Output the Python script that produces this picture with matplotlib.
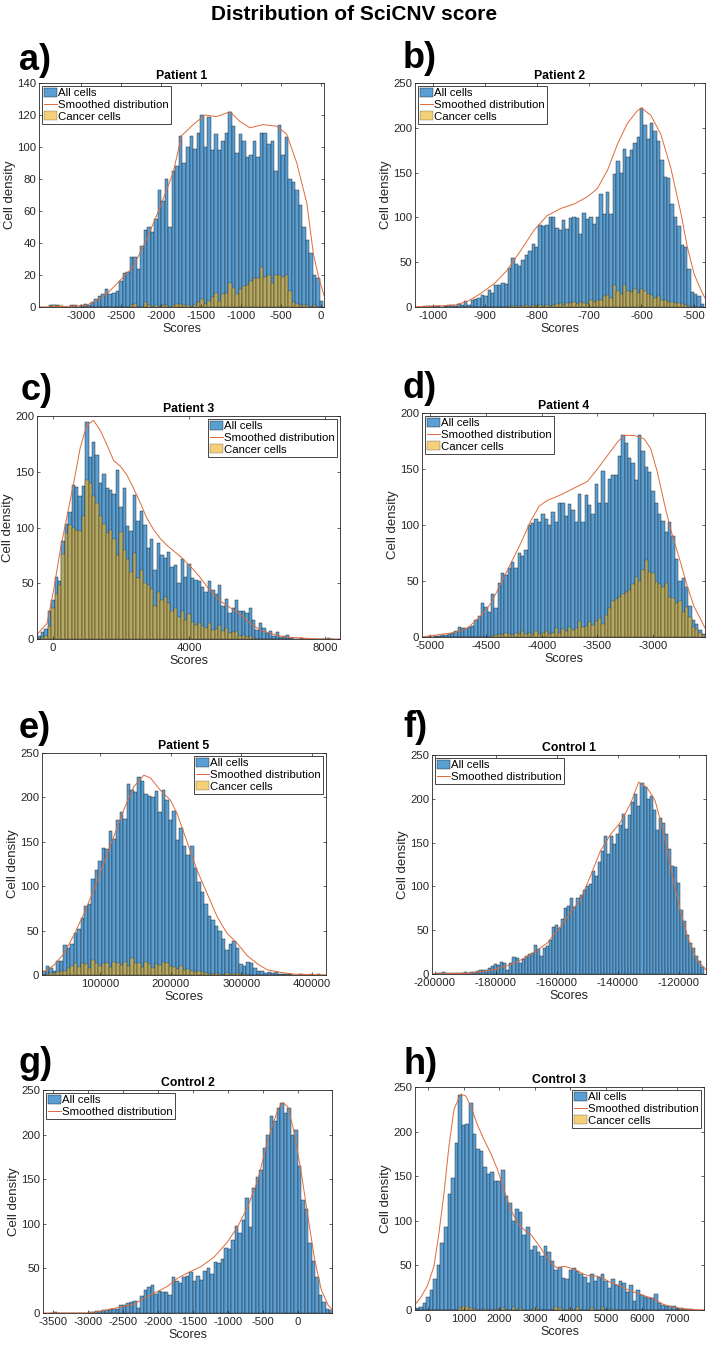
import numpy as np
import matplotlib
matplotlib.use("Agg")
import matplotlib.pyplot as plt
from matplotlib.patches import Patch
from matplotlib.lines import Line2D

plt.rcParams['font.family'] = ['Liberation Sans', 'DejaVu Sans']
plt.rcParams['axes.unicode_minus'] = False

# ---- Patient 1 ----
a_start, a_width = -3400, 44
a_all = [1, 1, 1, 0, 0, 0, 1, 1, 0, 1, 2, 1, 3, 5, 7, 8, 11, 8, 9, 10,
         16, 21, 22, 31, 31, 24, 38, 48, 50, 47, 55, 73, 66, 80, 50, 85, 88, 107, 90, 100,
         107, 99, 109, 120, 100, 119, 98, 108, 98, 104, 109, 122, 113, 96, 108, 104, 94, 95, 104, 94,
         109, 109, 102, 104, 85, 114, 95, 106, 80, 78, 73, 64, 50, 42, 34, 20, 18, 4]
a_cancer = [0, 1, 0, 1, 0, 0, 0, 0, 0, 0, 0, 0, 0, 0, 0, 0, 0, 0, 0, 0,
            0, 0, 0, 1, 2, 0, 0, 3, 1, 0, 1, 0, 1, 1, 0, 1, 2, 2, 1, 1,
            0, 1, 3, 5, 2, 4, 6, 9, 4, 8, 9, 15, 12, 8, 11, 13, 14, 16, 18, 18,
            25, 19, 20, 15, 20, 20, 19, 20, 10, 3, 2, 1, 1, 1, 0, 1, 0, 0]
a_curve_x = [-3520, -3200, -2930, -2763, -2636, -2500, -2345, -2178, -2011, -1844, -1740, -1594, -1448,
             -1302, -1135, -1010, -885, -718, -551, -426, -300, -175, -92, -29, 42]
a_curve_y = [0, 0.3, 1, 5, 10, 17, 25, 42, 62, 84, 107, 114, 120, 119, 122, 116, 112, 114, 113, 108,
             90, 65, 33, 19, 7]

# ---- Patient 2 ----
b_start, b_width = -1032, 6.5
b_all = [0, 0, 1, 1, 1, 1, 1, 0, 1, 2, 2, 1, 3, 2, 7, 2, 8, 9, 10, 13,
         12, 19, 16, 25, 25, 27, 26, 43, 55, 48, 46, 53, 58, 62, 70, 67, 92, 90, 92, 100,
         100, 88, 86, 97, 87, 99, 101, 99, 82, 105, 98, 100, 93, 101, 126, 104, 128, 104, 148, 163,
         150, 176, 167, 175, 183, 190, 222, 203, 188, 205, 196, 185, 164, 145, 144, 115, 100, 90, 69, 67,
         42, 17, 15, 12, 3]
b_cancer = [0, 0, 0, 0, 0, 0, 0, 0, 0, 0, 0, 0, 0, 0, 0, 0, 0, 0, 0, 0,
            0, 0, 0, 0, 0, 0, 0, 1, 1, 1, 1, 1, 2, 1, 2, 1, 2, 1, 2, 1,
            2, 3, 4, 2, 5, 4, 6, 3, 6, 5, 3, 8, 6, 8, 8, 12, 13, 10, 25, 18,
            14, 24, 18, 17, 20, 16, 20, 18, 14, 13, 10, 12, 8, 8, 6, 6, 5, 4, 3, 2,
            1, 0, 0, 0, 0]
b_curve_x = [-1035, -1000, -960, -935, -909, -883, -858, -832, -806, -781, -755, -729, -704, -685, -665,
             -646, -627, -608, -600, -582, -563, -544, -524, -512, -499, -486, -478]
b_curve_y = [0, 1, 2, 6, 15, 26, 41, 63, 86, 102, 110, 115, 123, 132, 153, 182, 205, 219, 222, 214,
             193, 156, 104, 67, 37, 19, 10]

# ---- Patient 3 ----
c_start, c_width = -450, 100
c_all = [3, 6, 9, 25, 35, 56, 52, 88, 103, 114, 138, 136, 128, 137, 195, 163, 177, 165, 140, 148,
         135, 134, 130, 152, 118, 135, 101, 97, 129, 106, 115, 102, 82, 90, 62, 86, 75, 73, 78, 65,
         66, 50, 72, 56, 67, 55, 53, 52, 47, 42, 52, 44, 40, 48, 30, 36, 23, 28, 35, 25,
         25, 23, 28, 17, 8, 14, 10, 5, 7, 3, 6, 2, 3, 4, 1, 0, 0, 1, 0, 0,
         0, 0, 0, 0, 0, 1, 0]
c_cancer = [0, 2, 3, 12, 28, 40, 48, 76, 95, 102, 100, 98, 97, 110, 143, 140, 128, 122, 110, 103,
            95, 98, 90, 75, 96, 80, 72, 60, 77, 55, 62, 50, 48, 45, 30, 42, 35, 38, 32, 25,
            28, 20, 25, 17, 22, 15, 13, 14, 12, 10, 14, 8, 9, 13, 7, 10, 5, 6, 7, 3,
            4, 2, 3, 1, 0, 0, 0, 0, 0, 0, 0, 0, 0, 0, 0, 0, 0, 0, 0, 0,
            0, 0, 0, 0, 0, 0, 0]
c_curve_x = [-470, -176, 20, 216, 412, 608, 804, 1000, 1196, 1392, 1588, 1784, 1980, 2176, 2372, 2569,
             2765, 2961, 3157, 3353, 3549, 3745, 3941, 4137, 4333, 4529, 4725, 4921, 5216, 5510, 5804,
             6098, 6392, 6784, 7275, 7765, 8441]
c_curve_y = [4, 14, 44, 80, 110, 140, 172, 192, 196, 187, 174, 160, 155, 147, 135, 122, 108, 98, 90, 84,
             79, 74, 68, 62, 55, 47, 40, 34, 28, 22, 14, 8, 5, 2, 1, 0, 0]

# ---- Patient 4 ----
d_start, d_width = -5055, 30
d_all = [0, 1, 0, 1, 1, 2, 2, 3, 4, 5, 9, 8, 8, 9, 10, 15, 19,
         30, 27, 22, 38, 26, 48, 57, 55, 62, 67, 62, 75, 72, 78,
         100, 102, 105, 103, 110, 105, 100, 112, 103, 120, 120, 108, 119, 113, 103,
         128, 103, 127, 118, 110, 137, 120, 148, 120, 141, 145, 145, 162, 180, 173,
         160, 155, 140, 180, 166, 152, 147, 130, 120, 110, 104, 94, 103, 90, 70,
         50, 53, 45, 28, 15, 12, 6, 3]
d_cancer = [0, 0, 0, 0, 0, 0, 0, 0, 0, 0, 0, 0, 0, 0, 0, 0, 0, 0, 0, 0,
            1, 2, 3, 2, 4, 3, 2, 4, 3, 5, 3, 4, 2, 5, 3, 4, 5, 3, 4, 8,
            4, 7, 5, 9, 6, 8, 14, 9, 10, 13, 11, 14, 17, 12, 20, 26, 32, 34, 36, 38,
            40, 42, 47, 54, 50, 60, 69, 58, 57, 49, 47, 45, 48, 36, 35, 30, 32, 22, 27, 18,
            9, 7, 4, 2]
d_curve_x = [-5075, -4785, -4665, -4546, -4456, -4366, -4276, -4187, -4097, -4022, -3948, -3828, -3708,
             -3589, -3500, -3410, -3320, -3260, -3170, -3081, -3021, -2961, -2901, -2842, -2752, -2692,
             -2632, -2573, -2534]
d_curve_y = [0, 4, 8, 19, 30, 48, 66, 84, 104, 117, 122, 127, 133, 139, 150, 162, 174, 180, 180, 177,
             168, 147, 120, 96, 66, 45, 27, 16, 8]

# ---- Patient 5 ----
e_start, e_width = 17000, 5000
e_all = [5, 10, 8, 5, 16, 16, 34, 30, 35, 47, 52, 64, 78,
         80, 108, 118, 128, 143, 142, 162, 153, 175, 184, 176, 215, 208,
         206, 223, 218, 204, 202, 200, 207, 184, 208, 197, 174, 185, 152,
         165, 145, 135, 145, 120, 105, 93, 80, 66, 62, 55, 50, 40,
         28, 35, 38, 30, 12, 10, 15, 14, 8, 5, 4, 2, 3,
         2, 3, 1, 1, 1, 1, 0, 0, 1, 0, 0, 1, 0, 1, 0]
e_cancer = [0, 1, 2, 2, 3, 5, 4, 8, 10, 13, 9, 14, 12, 8, 17, 14, 10, 13, 14, 9,
            15, 13, 11, 15, 10, 19, 14, 13, 9, 15, 12, 8, 12, 11, 15, 13, 10, 9, 7, 10,
            6, 7, 4, 3, 5, 3, 2, 1, 1, 2, 1, 0, 2, 1, 1, 2, 1, 1, 0, 0,
            0, 0, 0, 0, 0, 0, 0, 0, 0, 0, 0, 0, 0, 0, 0, 0, 0, 0, 0, 0]
e_curve_x = [17000, 33900, 48000, 62300, 76400, 90550, 104700, 118900, 133000, 147200, 161400, 170900,
             185000, 199200, 208600, 222800, 237000, 251200, 265300, 279500, 293700, 307900, 322000,
             336200, 355100, 374000, 420000]
e_curve_y = [2, 11, 24, 45, 69, 96, 126, 156, 186, 212, 225, 222, 208, 197, 182, 150, 118, 92, 66, 47,
             36, 22, 13, 6, 3, 1, 0]

# ---- Control 1 ----
f_start, f_width = -200500, 1000
f_all = [0, 1, 1, 2, 1, 1, 1, 1, 1, 1, 2, 1, 2,
         2, 3, 4, 5, 4, 7, 9, 11, 10, 14, 12, 5, 13,
         19, 18, 12, 17, 20, 23, 24, 33, 29, 20, 30, 32, 39,
         54, 56, 53, 63, 75, 78, 87, 76, 87, 90, 96, 100, 103,
         118, 112, 128, 140, 158, 137, 157, 148, 160, 170, 183, 165, 182,
         196, 205, 192, 218, 213, 200, 203, 187, 164, 178, 172, 160, 143,
         123, 122, 104, 73, 60, 45, 35, 30, 20, 15, 8]
f_curve_x = [-200900, -188200, -180600, -174000, -168600, -163200, -158800, -155500, -152200, -148900,
             -145700, -142400, -139100, -135800, -133100, -130400, -127700, -124900, -122200, -119500,
             -116700, -114000, -111000]
f_curve_y = [0, 1, 5, 12, 22, 35, 54, 70, 85, 112, 140, 159, 173, 194, 219, 213, 198, 161, 115, 73,
             39, 16, 5]

# ---- Control 2 ----
g_start, g_width = -3550, 50
g_all = [0, 1, 0, 0, 0, 0, 0, 0, 0, 0, 0,
         1, 1, 2, 2, 3, 3, 4, 5, 4, 9,
         9, 11, 12, 13, 6, 19, 26, 29, 31, 21,
         25, 24, 24, 20, 40, 36, 34, 40, 42, 46,
         36, 42, 37, 47, 51, 44, 57, 56, 60, 73,
         72, 82, 98, 90, 104, 129, 96, 140, 153, 160,
         185, 200, 221, 215, 230, 235, 224, 230, 200, 205,
         165, 127, 117, 78, 58, 40, 20, 12, 4, 3]
g_curve_x = [-3643, -3000, -2818, -2579, -2340, -2149, -2006, -1862, -1719, -1576, -1385, -1194, -1003,
             -860, -717, -573, -430, -287, -215, -143, -48, 48, 143, 239, 334, 430, 487]
g_curve_y = [0, 0, 2, 6, 10, 19, 24, 30, 39, 45, 52, 63, 80, 97, 119, 149, 194, 228, 236, 231, 201,
             157, 108, 60, 26, 9, 4]

# ---- Control 3 ----
h_start, h_width = -350, 100
h_all = [2, 3, 8, 15, 22, 35, 50, 75, 93, 130, 148, 187,
         241, 207, 208, 232, 197, 180, 178, 160, 152, 155, 145,
         145, 157, 128, 120, 100, 113, 110, 84, 93, 67, 72,
         65, 60, 72, 65, 55, 45, 48, 36, 35, 45, 47,
         44, 40, 37, 30, 40, 32, 37, 40, 33, 25, 35,
         28, 33, 30, 20, 28, 10, 22, 17, 15, 13, 13,
         18, 8, 6, 4, 5, 5, 2, 2, 1, 1, 1]
h_cancer = [0, 0, 0, 0, 0, 0, 0, 0, 0, 0, 0, 0, 2, 5, 3, 2, 1, 0, 0, 1,
            0, 0, 1, 0, 2, 0, 0, 3, 0, 2, 0, 0, 0, 2, 0, 0, 0, 0, 0, 3,
            2, 0, 0, 2, 0, 3, 0, 0, 0, 2, 0, 0, 3, 0, 0, 1, 0, 0, 0, 0,
            0, 0, 0, 0, 0, 0, 0, 0, 0, 0, 0, 0, 0, 0, 0, 0, 0, 0]
h_curve_x = [-365, -206, -19, 168, 309, 449, 589, 730, 917, 1057, 1197, 1384, 1571, 1758, 1946, 2133,
             2320, 2507, 2694, 2881, 3068, 3255, 3442, 3629, 3816, 4003, 4190, 4377, 4565, 4752, 4939,
             5126, 5313, 5500, 5688, 5875, 6062, 6249, 6436, 6623, 6810, 7090, 7371, 7748]
h_curve_y = [6, 14, 27, 49, 87, 131, 184, 225, 242, 240, 229, 208, 191, 176, 158, 135, 113, 98, 90, 85,
             75, 64, 53, 47, 49, 47, 44, 40, 38, 38, 35, 31, 28, 25, 21, 19, 16, 14, 10, 6,
             4, 1.5, 0.7, 0]

BLUE = '#5a9fd4'
YELLOW = '#EDB120'
ORANGE = '#DE6A3A'
EDGE = '#1a1a1a'
AXC = '#262626'
W, H = 709, 1346

panels = [
    dict(tag='a)', title='Patient 1', box=(39, 83, 324, 307), tagpos=(19, 70),
         start=a_start, width=a_width, all=a_all, cancer=a_cancer, cx=a_curve_x, cy=a_curve_y,
         xlim=(-3520, 40), ylim=(0, 140), xticks=np.arange(-3000, 1, 500), yticks=np.arange(0, 141, 20),
         loc='upper left'),
    dict(tag='b)', title='Patient 2', box=(415, 83, 705, 307), tagpos=(403, 68),
         start=b_start, width=b_width, all=b_all, cancer=b_cancer, cx=b_curve_x, cy=b_curve_y,
         xlim=(-1035, -478), ylim=(0, 250), xticks=np.arange(-1000, -499, 100), yticks=np.arange(0, 251, 50),
         loc='upper left'),
    dict(tag='c)', title='Patient 3', box=(37, 416, 340, 639), tagpos=(21, 400),
         start=c_start, width=c_width, all=c_all, cancer=c_cancer, cx=c_curve_x, cy=c_curve_y,
         xlim=(-470, 8440), ylim=(0, 200), xticks=[0, 4000, 8000], yticks=np.arange(0, 201, 50),
         loc='upper right'),
    dict(tag='d)', title='Patient 4', box=(422, 413, 705, 637), tagpos=(403, 398),
         start=d_start, width=d_width, all=d_all, cancer=d_cancer, cx=d_curve_x, cy=d_curve_y,
         xlim=(-5075, -2534), ylim=(0, 200), xticks=np.arange(-5000, -2999, 500), yticks=np.arange(0, 201, 50),
         loc='upper left'),
    dict(tag='e)', title='Patient 5', box=(42, 753, 326, 975), tagpos=(19, 738),
         start=e_start, width=e_width, all=e_all, cancer=e_cancer, cx=e_curve_x, cy=e_curve_y,
         xlim=(17000, 420000), ylim=(0, 250), xticks=np.arange(100000, 400001, 100000),
         yticks=np.arange(0, 251, 50), loc='upper right'),
    dict(tag='f)', title='Control 1', box=(432, 755, 706, 974), tagpos=(403, 737),
         start=f_start, width=f_width, all=f_all, cancer=None, cx=f_curve_x, cy=f_curve_y,
         xlim=(-200900, -111000), ylim=(0, 250), xticks=np.arange(-200000, -119999, 20000),
         yticks=np.arange(0, 251, 50), loc='upper left'),
    dict(tag='g)', title='Control 2', box=(43, 1090, 332, 1313), tagpos=(19, 1073),
         start=g_start, width=g_width, all=g_all, cancer=None, cx=g_curve_x, cy=g_curve_y,
         xlim=(-3643, 487), ylim=(0, 250), xticks=np.arange(-3500, 1, 500), yticks=np.arange(0, 251, 50),
         loc='upper left'),
    dict(tag='h)', title='Control 3', box=(415, 1087, 704, 1310), tagpos=(403, 1074),
         start=h_start, width=h_width, all=h_all, cancer=h_cancer, cx=h_curve_x, cy=h_curve_y,
         xlim=(-365, 7748), ylim=(0, 250), xticks=np.arange(0, 7001, 1000), yticks=np.arange(0, 251, 50),
         loc='upper right'),
]

fig = plt.figure(figsize=(W / 100, H / 100), dpi=100)
fig.text(0.5, 1 - 14 / H, 'Distribution of SciCNV score', ha='center', va='center',
         fontsize=15, fontweight='bold')

for p in panels:
    l, t, r, b = p['box']
    ax = fig.add_axes([l / W, 1 - b / H, (r - l) / W, (b - t) / H])
    n = len(p['all'])
    edges = p['start'] + p['width'] * np.arange(n + 1)
    ax.bar(edges[:-1], p['all'], width=p['width'], align='edge', color=BLUE,
           edgecolor=EDGE, linewidth=0.3)
    if p['cancer'] is not None:
        ax.bar(edges[:-1], p['cancer'], width=p['width'], align='edge', color=YELLOW,
               alpha=0.6, edgecolor=EDGE, linewidth=0.3)
    ax.plot(p['cx'], p['cy'], color=ORANGE, lw=0.7)

    ax.set_xlim(*p['xlim'])
    ax.set_ylim(*p['ylim'])
    ax.set_xticks(p['xticks'])
    ax.set_yticks(p['yticks'])
    ax.set_xticklabels([str(int(v)) for v in p['xticks']])
    ax.set_yticklabels([str(int(v)) for v in p['yticks']])
    ax.tick_params(direction='in', top=True, right=True, length=2.5, width=0.5,
                   labelsize=8.2, colors=AXC)
    ax.tick_params(axis='x', pad=3)
    ax.tick_params(axis='y', pad=2)
    for s in ax.spines.values():
        s.set_linewidth(0.6)
        s.set_color(AXC)
    ax.set_title(p['title'], fontsize=8.8, fontweight='bold', pad=3)
    ax.set_xlabel('Scores', fontsize=9, color=AXC, labelpad=1.5)
    ax.set_ylabel('Cell density', fontsize=9.5, color=AXC, labelpad=1)

    handles = [Patch(facecolor=BLUE, edgecolor=EDGE, linewidth=0.3),
               Line2D([], [], color=ORANGE, lw=0.7)]
    labels = ['All cells', 'Smoothed distribution']
    if p['cancer'] is not None:
        handles.append(Patch(facecolor=YELLOW, alpha=0.6, edgecolor=EDGE, linewidth=0.3))
        labels.append('Cancer cells')
    leg = ax.legend(handles, labels, loc=p['loc'], fontsize=8.2, frameon=True, fancybox=False,
                    edgecolor=AXC, framealpha=1, borderpad=0.2, labelspacing=0.12,
                    handlelength=1.1, handleheight=0.8, handletextpad=0.15, borderaxespad=0.25)
    leg.get_frame().set_linewidth(0.6)

    fig.text(p['tagpos'][0] / W, 1 - p['tagpos'][1] / H, p['tag'], fontsize=26,
             fontweight='bold', ha='left', va='baseline')

fig.savefig('out.png', dpi=100)
